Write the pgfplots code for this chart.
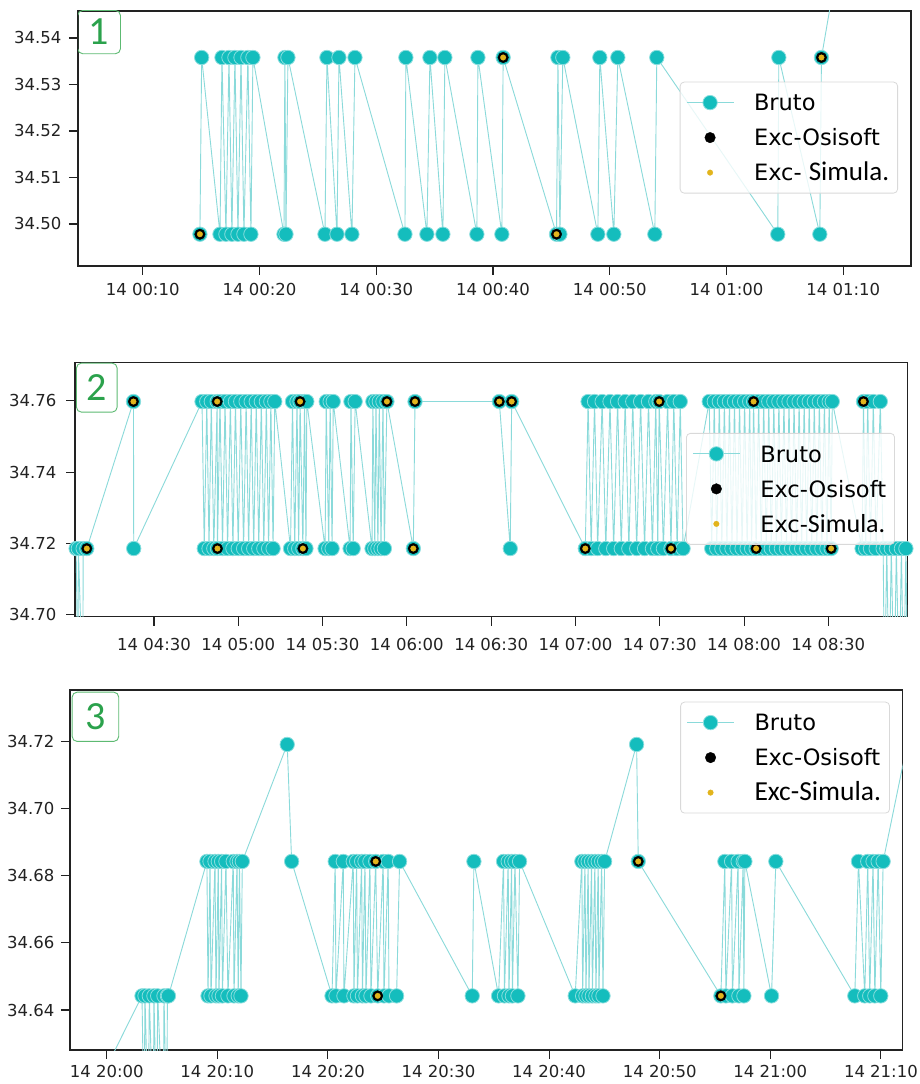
\documentclass[border=0pt]{standalone}
\usepackage{fontspec}
\setmainfont{DejaVu Sans}
\newfontfamily\carlito{Carlito}
\usepackage{pgfplots}
\pgfplotsset{compat=1.18}

\definecolor{cmark}{HTML}{14BDBD}
\definecolor{cline}{HTML}{8ADADA}
\definecolor{simc}{HTML}{E2B41C}
\definecolor{tagc}{HTML}{2BA24C}
\definecolor{tagb}{HTML}{5DBA72}
\definecolor{axc}{HTML}{222222}

\tikzset{
  numtag/.style={anchor=north west, draw=tagb, line width=0.9pt, rounded corners=5pt,
    inner sep=0pt, text=tagc, font=\carlito\fontsize{40}{40}\selectfont},
}

\pgfplotsset{
  legimg/.style={legend image code/.code={%
      \path[draw=none,fill=none] (0pt,-1pt) rectangle (47pt,1pt);
      \draw[mark repeat=2,mark phase=2,##1,draw opacity=1,fill opacity=1]
        plot coordinates {(0pt,0pt) (23.5pt,0pt) (47pt,0pt)};}},
  panel/.style={
    scale only axis, clip=true,
    axis line style={axc, line width=1.3pt},
    tick align=outside, xtick pos=bottom, ytick pos=left,
    major tick length=9pt,
    every tick/.style={axc, line width=1.1pt},
    tick label style={font=\fontsize{16.5}{19}\selectfont, text=axc},
    scaled y ticks=false,
    yticklabel={\pgfmathprintnumber[fixed,fixed zerofill,precision=2,assume math mode=true]{\tick}},
    legend cell align=left,
    legend style={anchor=north east, draw=black!15, line width=0.8pt,
      rounded corners=4pt, fill=white, fill opacity=0.8, text opacity=1,
      draw opacity=1, inner xsep=6pt, inner ysep=8.8pt,
      font=\fontsize{22.5}{27}\selectfont, row sep=11.6pt,
      nodes={inner xsep=2.5pt, inner ysep=0pt, text height=20pt, text depth=3.4pt},
      /tikz/every odd column/.append style={column sep=17.5pt}},
  },
  bruto/.style={draw=cline, line width=0.9pt, mark=*, mark size=7.2pt,
    mark options={draw=cmark!50!white, fill=cmark, line width=0.8pt}, legimg},
  osi/.style={only marks, mark=*, mark size=5.3pt,
    mark options={draw=black, fill=black, line width=0.3pt}, legimg},
  simu/.style={only marks, mark=*, mark size=2.8pt,
    mark options={draw=simc, fill=simc, line width=0.3pt}, legimg},
}

\begin{document}
\begin{tikzpicture}
\path[use as bounding box, fill=white] (0pt,0pt) rectangle (920pt,1084pt);

% ---------- 1: 14 00:05 -- 01:16 ----------
\begin{axis}[panel, at={(78pt,818pt)}, anchor=south west, width=833pt, height=255pt,
  xmin=4.46, xmax=75.8, ymin=34.49097, ymax=34.5458,
  xtick={10,20,...,70},
  xticklabels={14 00:10,14 00:20,14 00:30,14 00:40,14 00:50,14 01:00,14 01:10},
  ytick={34.50,34.51,34.52,34.53,34.54},
  xticklabel style={yshift=-5pt}, yticklabel style={xshift=-4pt},
  legend style={at={(0.9844,0.7227)}}]
\addplot[bruto] coordinates {
(14.90,34.4978) (15.05,34.5358) (16.62,34.4978) (16.79,34.5358) (17.13,34.4978)
(17.39,34.5358) (17.64,34.4978) (17.90,34.5358) (18.16,34.4978) (18.42,34.5358)
(18.67,34.4978) (19.01,34.5358) (19.27,34.4978) (19.44,34.5358) (22.10,34.4978)
(22.18,34.5358) (22.27,34.4978) (22.44,34.5358) (25.61,34.4978) (25.78,34.5358)
(26.64,34.4978) (26.81,34.5358) (27.92,34.4978) (28.18,34.5358) (32.46,34.4978)
(32.54,34.5358) (34.34,34.4978) (34.60,34.5358) (35.71,34.4978) (35.88,34.5358)
(38.62,34.4978) (38.71,34.5358) (40.76,34.4978) (40.87,34.5358) (45.44,34.4978)
(45.56,34.5358) (45.73,34.4978) (45.98,34.5358) (48.98,34.4978) (49.15,34.5358)
(50.35,34.4978) (50.69,34.5358) (53.86,34.4978) (54.03,34.5358) (64.39,34.4978)
(64.48,34.5358) (67.99,34.4978) (68.13,34.5358) (70.73,34.5738)};
\addlegendentry{Bruto}
\addplot[osi] coordinates {(14.90,34.4978) (40.87,34.5358) (45.44,34.4978) (68.13,34.5358)};
\addlegendentry{Exc-Osisoft}
\addplot[simu] coordinates {(14.90,34.4978) (40.87,34.5358) (45.44,34.4978) (68.13,34.5358)};
\addlegendentry{Exc- {\carlito\fontsize{27}{27}\selectfont Simula.}}
\node[numtag, minimum width=42.7pt, minimum height=43.3pt, xshift=-0.7pt, yshift=1pt]
  at (rel axis cs:0,1) {1};
\end{axis}

% ---------- 2: 14 04:02 -- 08:58 ----------
\begin{axis}[panel, at={(75pt,467.3pt)}, anchor=south west, width=832.3pt, height=254.4pt,
  xmin=241.9, xmax=538.1, ymin=34.6995, ymax=34.7708,
  xtick={270,300,...,510},
  xticklabels={14 04:30,14 05:00,14 05:30,14 06:00,14 06:30,14 07:00,14 07:30,14 08:00,14 08:30},
  ytick={34.70,34.72,34.74,34.76},
  xticklabel style={yshift=-9pt}, yticklabel style={xshift=-6pt},
  legend style={at={(0.9852,0.7221)}}]
\addplot[bruto] coordinates {
(242.3,34.7186) (243.0,34.6774) (243.1,34.7186) (244.7,34.6774) (244.8,34.7186)
(246.1,34.7186) (262.7,34.7598) (262.8,34.7186) (287.1,34.7598) (287.9,34.7186)
(288.8,34.7598) (289.6,34.7186) (290.4,34.7598) (291.3,34.7186) (292.5,34.7598)
(292.6,34.7186) (293.5,34.7598) (294.4,34.7186) (295.3,34.7598) (296.2,34.7186)
(297.2,34.7598) (298.1,34.7186) (299.0,34.7598) (300.0,34.7186) (300.9,34.7598)
(301.9,34.7186) (302.8,34.7598) (303.7,34.7186) (304.6,34.7598) (305.5,34.7186)
(306.4,34.7598) (307.3,34.7186) (308.2,34.7598) (309.1,34.7186) (310.0,34.7598)
(310.8,34.7186) (311.6,34.7598) (312.4,34.7186) (313.0,34.7598) (318.6,34.7186)
(319.3,34.7598) (320.1,34.7186) (320.9,34.7598) (321.5,34.7186) (322.0,34.7598)
(323.0,34.7186) (323.6,34.7598) (324.1,34.7186) (324.4,34.7598) (330.9,34.7186)
(331.3,34.7598) (332.2,34.7186) (332.7,34.7598) (333.4,34.7186) (333.8,34.7598)
(339.8,34.7186) (340.1,34.7598) (340.9,34.7186) (341.6,34.7598) (347.6,34.7186)
(347.9,34.7598) (348.6,34.7186) (349.0,34.7598) (349.7,34.7186) (350.2,34.7598)
(350.8,34.7186) (351.5,34.7598) (352.0,34.7186) (352.9,34.7598) (362.3,34.7186)
(362.9,34.7598) (392.9,34.7598) (396.8,34.7186) (397.3,34.7598) (423.5,34.7186)
(424.5,34.7598) (425.6,34.7186) (426.8,34.7598) (427.9,34.7186) (429.5,34.7598)
(430.8,34.7186) (432.3,34.7598) (433.6,34.7186) (435.0,34.7598) (436.3,34.7186)
(437.7,34.7598) (439.0,34.7186) (440.4,34.7598) (441.8,34.7186) (443.2,34.7598)
(444.6,34.7186) (446.0,34.7598) (447.4,34.7186) (448.6,34.7598) (449.3,34.7186)
(449.8,34.7598) (451.3,34.7186) (452.8,34.7598) (454.0,34.7186) (455.0,34.7598)
(456.2,34.7186) (457.3,34.7598) (458.3,34.7186) (467.6,34.7598) (468.5,34.7186)
(469.4,34.7598) (470.3,34.7186) (471.2,34.7598) (472.1,34.7186) (473.0,34.7598)
(473.9,34.7186) (474.8,34.7598) (475.7,34.7186) (476.6,34.7598) (477.5,34.7186)
(478.4,34.7598) (479.3,34.7186) (480.2,34.7598) (481.1,34.7186) (482.0,34.7598)
(482.7,34.7186) (483.4,34.7598) (484.3,34.7186) (485.2,34.7598) (486.1,34.7186)
(487.0,34.7598) (487.9,34.7186) (488.8,34.7598) (489.7,34.7186) (490.6,34.7598)
(491.5,34.7186) (492.4,34.7598) (493.3,34.7186) (494.2,34.7598) (495.1,34.7186)
(496.0,34.7598) (496.9,34.7186) (497.8,34.7598) (498.7,34.7186) (499.6,34.7598)
(500.5,34.7186) (501.4,34.7598) (502.3,34.7186) (503.2,34.7598) (504.1,34.7186)
(505.0,34.7598) (505.9,34.7186) (506.8,34.7598) (507.7,34.7186) (508.6,34.7598)
(509.5,34.7186) (510.3,34.7598) (511.0,34.7186) (511.4,34.7598) (522.0,34.7186)
(522.5,34.7598) (523.3,34.7186) (524.0,34.7598) (525.0,34.7186) (526.0,34.7598)
(527.0,34.7186) (528.5,34.7598) (529.5,34.7186) (530.0,34.6774) (530.8,34.7186)
(531.6,34.6774) (532.4,34.7186) (533.4,34.6774) (534.2,34.7186) (535.2,34.6774)
(536.0,34.7186) (536.8,34.6774) (537.6,34.7186) (538.2,34.6774)};
\addlegendentry{Bruto}
\addplot[osi] coordinates {
(246.1,34.7186) (262.7,34.7598) (292.5,34.7598) (292.6,34.7186) (322.0,34.7598)
(323.0,34.7186) (352.9,34.7598) (362.3,34.7186) (362.9,34.7598) (392.9,34.7598)
(397.3,34.7598) (423.5,34.7186) (449.8,34.7598) (454.0,34.7186) (483.4,34.7598)
(484.3,34.7186) (511.0,34.7186) (522.5,34.7598)};
\addlegendentry{Exc-Osisoft}
\addplot[simu] coordinates {
(246.1,34.7186) (262.7,34.7598) (292.5,34.7598) (292.6,34.7186) (322.0,34.7598)
(323.0,34.7186) (352.9,34.7598) (362.3,34.7186) (362.9,34.7598) (392.9,34.7598)
(397.3,34.7598) (423.5,34.7186) (449.8,34.7598) (454.0,34.7186) (483.4,34.7598)
(484.3,34.7186) (511.0,34.7186) (522.5,34.7598)};
\addlegendentry{Exc-{\carlito\fontsize{26}{26}\selectfont Simula.}}
\node[numtag, minimum width=40.7pt, minimum height=49pt, xshift=1pt, yshift=-0.4pt]
  at (rel axis cs:0,1) {2};
\end{axis}

% ---------- 3: 14 19:57 -- 21:12 ----------
\begin{axis}[panel, at={(70pt,34pt)}, anchor=south west, width=832.7pt, height=360pt,
  xmin=1196.68, xmax=1271.97, ymin=34.6281, ymax=34.7352,
  xtick={1200,1210,...,1270},
  xticklabels={14 20:00,14 20:10,14 20:20,14 20:30,14 20:40,14 20:50,14 21:00,14 21:10},
  ytick={34.64,34.66,34.68,34.70,34.72},
  xticklabel style={yshift=-3pt}, yticklabel style={xshift=-3pt},
  legend style={at={(0.9847,0.9675)}}]
\addplot[bruto] coordinates {
(1197.13,34.6042) (1203.19,34.6442) (1203.37,34.6042) (1203.46,34.6442) (1203.76,34.6042)
(1203.85,34.6442) (1204.21,34.6042) (1204.27,34.6442) (1204.52,34.6042) (1204.61,34.6442)
(1205.11,34.6042) (1205.18,34.6442) (1205.42,34.6042) (1205.49,34.6442) (1205.58,34.6442)
(1209.06,34.6842) (1209.16,34.6442) (1209.34,34.6842) (1209.43,34.6442) (1209.79,34.6842)
(1209.88,34.6442) (1210.09,34.6842) (1210.15,34.6442) (1210.39,34.6842) (1210.46,34.6442)
(1210.78,34.6842) (1210.96,34.6442) (1211.44,34.6842) (1211.51,34.6442) (1211.78,34.6842)
(1211.89,34.6442) (1212.00,34.6842) (1212.14,34.6442) (1212.26,34.6842) (1216.32,34.7190)
(1216.72,34.6842) (1220.37,34.6442) (1220.66,34.6842) (1220.73,34.6442) (1221.39,34.6842)
(1221.45,34.6442) (1222.29,34.6842) (1222.35,34.6442) (1222.60,34.6842) (1222.67,34.6442)
(1223.05,34.6842) (1223.12,34.6442) (1223.35,34.6842) (1223.44,34.6442) (1223.80,34.6842)
(1223.89,34.6442) (1224.32,34.6842) (1224.50,34.6442) (1225.00,34.6842) (1225.07,34.6442)
(1225.45,34.6842) (1225.52,34.6442) (1226.21,34.6442) (1226.48,34.6842) (1233.05,34.6442)
(1233.20,34.6842) (1235.43,34.6442) (1235.88,34.6842) (1235.96,34.6442) (1236.30,34.6842)
(1236.37,34.6442) (1236.61,34.6842) (1236.68,34.6442) (1236.91,34.6842) (1237.18,34.6442)
(1237.33,34.6842) (1242.36,34.6442) (1242.96,34.6842) (1243.03,34.6442) (1243.24,34.6842)
(1243.33,34.6442) (1243.53,34.6842) (1243.60,34.6442) (1243.84,34.6842) (1243.91,34.6442)
(1244.14,34.6842) (1244.23,34.6442) (1244.44,34.6842) (1244.50,34.6442) (1244.75,34.6842)
(1244.87,34.6442) (1245.02,34.6842) (1247.91,34.7190) (1248.06,34.6842) (1255.53,34.6442)
(1255.89,34.6842) (1255.98,34.6442) (1256.50,34.6842) (1256.57,34.6442) (1257.09,34.6842)
(1257.16,34.6442) (1257.55,34.6842) (1257.61,34.6442) (1257.70,34.6842) (1260.11,34.6442)
(1260.50,34.6842) (1267.64,34.6442) (1267.97,34.6842) (1268.54,34.6442) (1268.81,34.6842)
(1268.99,34.6442) (1269.29,34.6842) (1269.45,34.6442) (1269.75,34.6842) (1269.99,34.6442)
(1270.20,34.6842) (1272.69,34.7242)};
\addlegendentry{Bruto}
\addplot[osi] coordinates {(1224.32,34.6842) (1224.50,34.6442) (1248.06,34.6842) (1255.53,34.6442)};
\addlegendentry{Exc-Osisoft}
\addplot[simu] coordinates {(1224.32,34.6842) (1224.50,34.6442) (1248.06,34.6842) (1255.53,34.6442)};
\addlegendentry{{\carlito\fontsize{27.5}{27.5}\selectfont Exc-Simula.}}
\node[numtag, minimum width=46.6pt, minimum height=49.3pt, xshift=1.7pt, yshift=-1.7pt]
  at (rel axis cs:0,1) {3};
\end{axis}
\end{tikzpicture}
\end{document}
